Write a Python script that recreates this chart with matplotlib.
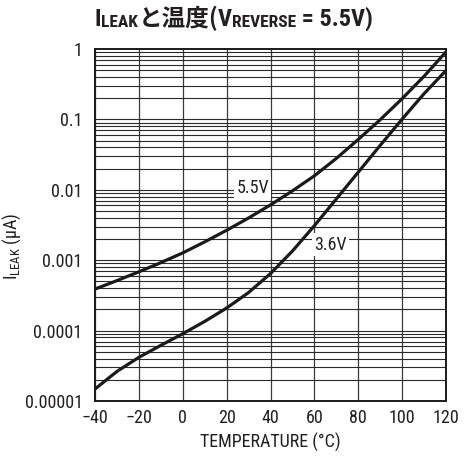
import numpy as np
import matplotlib
matplotlib.use("Agg")
import matplotlib.pyplot as plt
from matplotlib import font_manager
from matplotlib.ticker import FixedLocator, NullFormatter, NullLocator

# Leakage current vs temperature, two reverse-voltage curves
temp_c = [-40, -30, -20, -10, 0, 10, 20, 30, 40, 50, 60, 70, 80, 90, 100, 110, 120]
ileak_55v = [3.89e-4, 5.13e-4, 6.84e-4, 9.23e-4, 1.27e-3, 1.82e-3, 2.66e-3, 3.98e-3, 6.10e-3,
             9.66e-3, 1.58e-2, 2.79e-2, 5.19e-2, 9.89e-2, 0.197, 0.41, 0.91]
ileak_36v = [1.48e-5, 2.63e-5, 4.17e-5, 6.17e-5, 9.02e-5, 1.35e-4, 2.09e-4, 3.47e-4, 6.46e-4,
             1.35e-3, 3.09e-3, 7.41e-3, 1.78e-2, 4.27e-2, 0.101, 0.232, 0.495]

curve_labels = ["5.5V", "3.6V"]
label_pos = [(31.8, 0.0106), (67.5, 1.67e-3)]

x_ticks = [-40, -20, 0, 20, 40, 60, 80, 100, 120]
x_ticklabels = ["\u221240", "\u221220", "0", "20", "40", "60", "80", "100", "120"]
y_ticks = [1e-5, 1e-4, 1e-3, 1e-2, 1e-1, 1]
y_ticklabels = ["0.00001", "0.0001", "0.001", "0.01", "0.1", "1"]

installed = {f.name for f in font_manager.fontManager.ttflist}
latin = "Liberation Sans"
for cand in ["Liberation Sans Narrow", "Roboto Condensed", "Liberation Sans"]:
    if cand in installed:
        latin = cand
        break

plt.rcParams["font.family"] = [latin, "DejaVu Sans"]
plt.rcParams["mathtext.fontset"] = "custom"
plt.rcParams["mathtext.rm"] = latin
TXT = "#231f20"
FS = 13

fig = plt.figure(figsize=(4.76, 4.59), dpi=100)
ax = fig.add_axes([95 / 476, 1 - 401 / 459, 351 / 476, 352 / 459])
ax.set_yscale("log")
ax.set_xlim(-40, 120)
ax.set_ylim(1e-5, 1)

# grid: vertical every 20 degC, horizontal at each 1..9 of every decade
for xv in x_ticks:
    ax.axvline(xv, color="#3a3a3a", lw=0.9, zorder=1)
for d in range(-5, 0):
    for m in range(1, 10):
        ax.axhline(m * 10.0 ** d, color="#2a2a2a", lw=0.8, zorder=1)

ax.plot(temp_c, ileak_55v, color="#1a1a1a", lw=2.3, zorder=3, solid_joinstyle="round")
ax.plot(temp_c, ileak_36v, color="#1a1a1a", lw=2.3, zorder=3, solid_joinstyle="round")

for lab, (xv, yv) in zip(curve_labels, label_pos):
    ax.text(xv, yv, lab, ha="center", va="center", fontsize=FS, color=TXT, zorder=4,
            bbox=dict(facecolor="white", edgecolor="none", pad=1.5))

ax.xaxis.set_major_locator(FixedLocator(x_ticks))
ax.set_xticklabels(x_ticklabels)
ax.yaxis.set_major_locator(FixedLocator(y_ticks))
ax.yaxis.set_minor_locator(NullLocator())
ax.yaxis.set_minor_formatter(NullFormatter())
ax.set_yticklabels(y_ticklabels)
ax.tick_params(axis="y", length=0, pad=9, labelsize=FS, labelcolor=TXT)
ax.tick_params(axis="x", length=0, pad=6, labelsize=FS, labelcolor=TXT)

for s in ax.spines.values():
    s.set_linewidth(1.4)
    s.set_color("#1a1a1a")

ax.set_xlabel("TEMPERATURE (\u00b0C)", fontsize=FS, color=TXT, labelpad=4)
ax.set_ylabel(r"I$_{\mathregular{LEAK}}$ ($\mathregular{\mu}$A)", fontsize=FS, color=TXT)
ax.yaxis.set_label_coords(-0.205, 0.44)

# Title built from pieces so the subscripts sit on the baseline in a smaller size
cjk = ["Noto Sans CJK JP", latin, "DejaVu Sans"]
pieces = [
    ("I", 17.5, [latin, "DejaVu Sans"], 0),
    ("LEAK", 12.5, [latin, "DejaVu Sans"], -1),
    ("と温度(", 17, cjk, 0),
    ("V", 17.5, [latin, "DejaVu Sans"], 0),
    ("REVERSE", 12.5, [latin, "DejaVu Sans"], -1),
    (" = 5.5V)", 17.5, [latin, "DejaVu Sans"], 0),
]
fig.canvas.draw()
renderer = fig.canvas.get_renderer()
objs = []
widths = []
for txt, size, fam, dy in pieces:
    t = fig.text(0, 0, txt, fontsize=size, family=fam, fontweight="bold", color=TXT,
                 ha="left", va="baseline", transform=None)
    widths.append(t.get_window_extent(renderer).width)
    objs.append((t, dy))
total = sum(widths)
x0 = 234 - total / 2
base = 459 - 26
for (t, dy), w in zip(objs, widths):
    t.set_position((x0, base + dy))
    x0 += w

fig.savefig("out.png", dpi=100, facecolor="white")
